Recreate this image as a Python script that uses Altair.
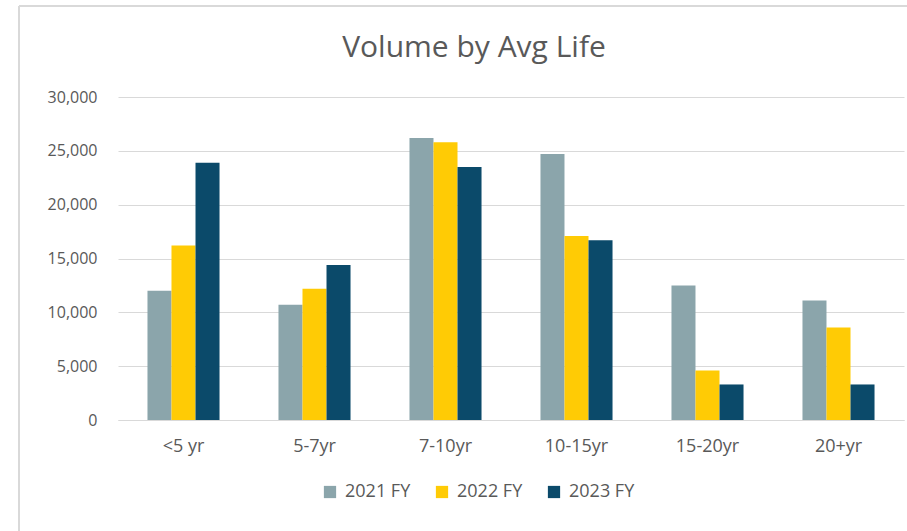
import altair as alt
import pandas as pd

categories = ["<5 yr", "5-7yr", "7-10yr", "10-15yr", "15-20yr", "20+yr"]
fy2021 = [12000, 10700, 26200, 24700, 12500, 11100]
fy2022 = [16200, 12200, 25800, 17100, 4600, 8600]
fy2023 = [23900, 14400, 23500, 16700, 3300, 3300]
series = ["2021 FY", "2022 FY", "2023 FY"]
colors = ["#8BA5AB", "#FFCB05", "#0B4A6A"]

rows = []
for name, vals in zip(series, [fy2021, fy2022, fy2023]):
    for c, v in zip(categories, vals):
        rows.append({"cat": c, "series": name, "value": v})
df = pd.DataFrame(rows)

FONT = "Open Sans"
GREY = "#595959"
BORDER = "#D9D9D9"

bars = alt.Chart(df).mark_bar().encode(
    x=alt.X("cat:N", sort=categories, title=None,
            scale=alt.Scale(paddingInner=0.45, paddingOuter=0.225),
            axis=alt.Axis(labelAngle=0, labelFont=FONT, labelFontSize=18, labelColor=GREY,
                          labelPadding=17, ticks=False, domainColor=BORDER, grid=False)),
    xOffset=alt.XOffset("series:N", sort=series),
    y=alt.Y("value:Q", title=None,
            scale=alt.Scale(domain=[0, 30000], nice=False),
            axis=alt.Axis(values=[0, 5000, 10000, 15000, 20000, 25000, 30000], format=",d",
                          labelFont=FONT, labelFontSize=16, labelColor=GREY, labelPadding=21,
                          ticks=False, domain=False, gridColor=BORDER)),
    color=alt.Color("series:N", sort=series,
                    scale=alt.Scale(domain=series, range=colors),
                    legend=alt.Legend(title=None, orient="none", direction="horizontal",
                                      legendX=203, legendY=386, symbolType="square",
                                      symbolSize=150, symbolStrokeWidth=0,
                                      labelFont=FONT, labelFontSize=18, labelColor=GREY,
                                      columnPadding=22, labelOffset=6)),
)

frame_top = alt.Chart(df).mark_rule(color=BORDER, strokeWidth=1.5, clip=False).encode(
    x=alt.value(-99), x2=alt.value(790), y=alt.value(-91))
frame_left = alt.Chart(df).mark_rule(color=BORDER, strokeWidth=1.5, clip=False).encode(
    x=alt.value(-99), y=alt.value(-91), y2=alt.value(440))

chart = alt.layer(frame_top, frame_left, bars).properties(
    width=786, height=323,
    title=alt.Title("Volume by Avg Life", font=FONT, fontSize=30, fontWeight="normal",
                    color=GREY, anchor="middle", frame="group", dx=-37, dy=85, offset=27),
    autosize=alt.AutoSizeParams(type="none"),
    padding={"left": 118, "top": 97, "right": 3, "bottom": 111},
).configure(background="white").configure_view(stroke="#ffffff", strokeWidth=1)

chart.save("out.html", embed_options={"renderer": "svg", "actions": False})
